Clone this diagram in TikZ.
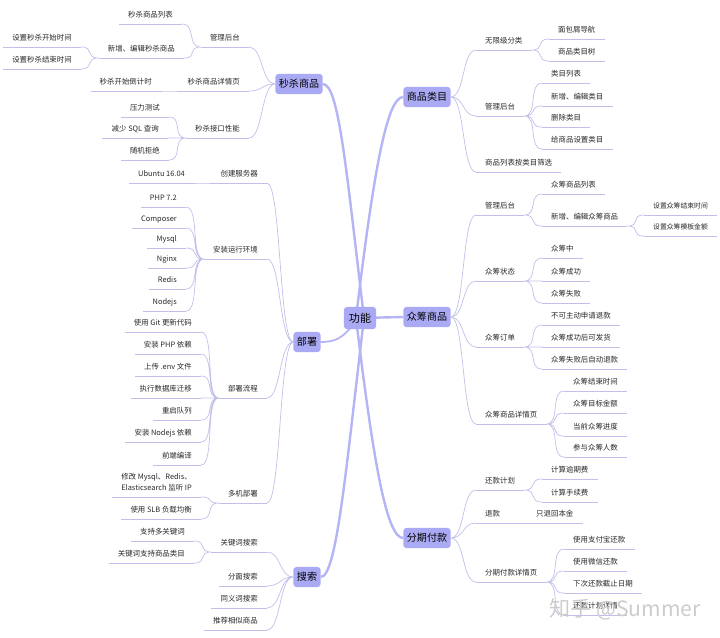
\documentclass[tikz,border=0pt]{standalone}
\usepackage{fontspec}
\setmainfont{Noto Sans CJK SC}
\usepackage{tikz}
\usetikzlibrary{backgrounds}
\definecolor{topicfill}{RGB}{170,170,244}
\definecolor{trunkline}{RGB}{180,180,246}
\definecolor{twigline}{RGB}{192,192,234}
\definecolor{labeltext}{RGB}{40,40,40}
\tikzset{
	topicbox/.style={fill=topicfill, rounded corners=3pt, inner xsep=3.5pt, inner ysep=0pt,
		minimum height=20pt, font=\fontsize{10}{12}\selectfont, text=black}
}
\tikzset{
	twig/.style={text=labeltext, font=\fontsize{7.4}{11}\selectfont, inner xsep=9pt, inner ysep=4.6pt,
		text depth=1.5pt, append after command={(\tikzlastnode.south west)
		edge[draw=twigline, line width=0.7pt] (\tikzlastnode.south east)}},
	twigL/.style={twig, anchor=south east},
	twigR/.style={twig, anchor=south west},
	smalltwig/.style={font=\fontsize{6.8}{9}\selectfont}
}
\tikzset{
	lcurve/.style={draw=twigline, line width=0.7pt, to path={.. controls +(-14,0) and +(14,0) .. (\tikztotarget)}},
	rcurve/.style={draw=twigline, line width=0.7pt, to path={.. controls +(14,0) and +(-14,0) .. (\tikztotarget)}},
	trunk/.style={draw=trunkline, line width=2.4pt}
}

\begin{document}
\begin{tikzpicture}[x=0.35mm, y=-0.35mm]
  \useasboundingbox (0,0) rectangle (720,637);
  % centre and main topics
  \node[topicbox, font=\fontsize{11}{13}\selectfont, inner xsep=5pt, minimum height=22pt] (gn) at (360,318) {功能};
  \node[topicbox] (ms) at (299,84) {秒杀商品};
  \node[topicbox] (bs) at (307,342) {部署};
  \node[topicbox] (ss) at (307,577) {搜索};
  \node[topicbox] (lm) at (427,97) {商品类目};
  \node[topicbox] (zc) at (427,317) {众筹商品};
  \node[topicbox] (fq) at (427,538) {分期付款};

  % 秒杀商品
  \node[twigL] (ms1) at (249,47) {管理后台};
  \node[twigL] (ms11) at (182,24) {秒杀商品列表};
  \node[twigL] (ms12) at (184,58) {新增、编辑秒杀商品};
  \node[twigL] (ms121) at (81,47) {设置秒杀开始时间};
  \node[twigL] (ms122) at (81,69) {设置秒杀结束时间};
  \node[twigL] (ms2) at (249,91) {秒杀商品详情页};
  \node[twigL] (ms21) at (161,91) {秒杀开始倒计时};
  \node[twigL] (ms3) at (249,138) {秒杀接口性能};
  \node[twigL] (ms31) at (169,117) {压力测试};
  \node[twigL] (ms32) at (168,138) {减少 SQL 查询};
  \node[twigL] (ms33) at (169,160) {随机拒绝};

  % 部署
  \node[twigL] (bs1) at (267,183) {创建服务器};
  \node[twigL] (bs11) at (194,183) {Ubuntu 16.04};
  \node[twigL] (bs2) at (267,259) {安装运行环境};
  \node[twigL] (bs21) at (186,207) {PHP 7.2};
  \node[twigL] (bs22) at (186,228) {Composer};
  \node[twigL] (bs23) at (186,248) {Mysql};
  \node[twigL] (bs24) at (186,268) {Nginx};
  \node[twigL] (bs25) at (186,289) {Redis};
  \node[twigL] (bs26) at (186,311) {Nodejs};
  \node[twigL] (bs3) at (267,398) {部署流程};
  \node[twigL] (bs31) at (201,332) {使用 Git 更新代码};
  \node[twigL] (bs32) at (201,354) {安装 PHP 依赖};
  \node[twigL] (bs33) at (201,376) {上传 .env 文件};
  \node[twigL] (bs34) at (201,398) {执行数据库迁移};
  \node[twigL] (bs35) at (201,420) {重启队列};
  \node[twigL] (bs36) at (201,442) {安装 Nodejs 依赖};
  \node[twigL] (bs37) at (201,465) {前端编译};
  \node[twigL] (bs4) at (267,503) {多机部署};
  \node[twigL, align=left] (bs41) at (201,497) {修改 Mysql、Redis、\\Elasticsearch 监听 IP};
  \node[twigL] (bs42) at (201,519) {使用 SLB 负载均衡};

  % 搜索
  \node[twigL] (ss1) at (267,552) {关键词搜索};
  \node[twigL] (ss11) at (194,541) {支持多关键词};
  \node[twigL] (ss12) at (194,563) {关键词支持商品类目};
  \node[twigL] (ss2) at (267,586) {分面搜索};
  \node[twigL] (ss3) at (267,608) {同义词搜索};
  \node[twigL] (ss4) at (267,630) {推荐相似商品};

  % 商品类目
  \node[twigR] (lm1) at (476,50) {无限级分类};
  \node[twigR] (lm11) at (549,39) {面包屑导航};
  \node[twigR] (lm12) at (549,61) {商品类目树};
  \node[twigR] (lm2) at (476,116) {管理后台};
  \node[twigR] (lm21) at (542,83) {类目列表};
  \node[twigR] (lm22) at (542,106) {新增、编辑类目};
  \node[twigR] (lm23) at (542,127) {删除类目};
  \node[twigR] (lm24) at (542,149) {给商品设置类目};
  \node[twigR] (lm3) at (476,172) {商品列表按类目筛选};

  % 众筹商品
  \node[twigR] (zc1) at (476,215) {管理后台};
  \node[twigR] (zc11) at (542,194) {众筹商品列表};
  \node[twigR] (zc12) at (542,226) {新增、编辑众筹商品};
  \node[twigR, smalltwig] (zc121) at (644,215) {设置众筹结束时间};
  \node[twigR, smalltwig] (zc122) at (644,236) {设置众筹模板金额};
  \node[twigR] (zc2) at (476,281) {众筹状态};
  \node[twigR] (zc21) at (542,258) {众筹中};
  \node[twigR] (zc22) at (542,281) {众筹成功};
  \node[twigR] (zc23) at (542,303) {众筹失败};
  \node[twigR] (zc3) at (476,347) {众筹订单};
  \node[twigR] (zc31) at (542,325) {不可主动申请退款};
  \node[twigR] (zc32) at (542,347) {众筹成功后可发货};
  \node[twigR] (zc33) at (542,369) {众筹失败后自动退款};
  \node[twigR] (zc4) at (476,424) {众筹商品详情页};
  \node[twigR] (zc41) at (564,391) {众筹结束时间};
  \node[twigR] (zc42) at (564,413) {众筹目标金额};
  \node[twigR] (zc43) at (564,436) {当前众筹进度};
  \node[twigR] (zc44) at (564,457) {参与众筹人数};

  % 分期付款
  \node[twigR] (fq1) at (476,490) {还款计划};
  \node[twigR] (fq11) at (542,479) {计算逾期费};
  \node[twigR] (fq12) at (542,502) {计算手续费};
  \node[twigR] (fq2) at (476,523) {退款};
  \node[twigR] (fq21) at (527,523) {只退回本金};
  \node[twigR] (fq3) at (476,582) {分期付款详情页};
  \node[twigR] (fq31) at (564,549) {使用支付宝还款};
  \node[twigR] (fq32) at (564,571) {使用微信还款};
  \node[twigR] (fq33) at (564,593) {下次还款截止日期};
  \node[twigR] (fq34) at (564,615) {还款计划详情};

  % watermark
  \node[text=black!20, font=\fontsize{21}{21}\selectfont] (wm) at (625,609) {知乎 @Summer};

  \begin{scope}[on background layer]
    % trunk lines
    \draw[trunk] (ms.east) .. controls +(16,0) and +(-18,-150) .. ([xshift=4pt]gn.center);
    \draw[trunk] (ss.east) .. controls +(16,0) and +(-18,150) .. ([xshift=4pt]gn.center);
    \draw[trunk] (lm.west) .. controls +(-16,0) and +(18,-150) .. ([xshift=-4pt]gn.center);
    \draw[trunk] (fq.west) .. controls +(-16,0) and +(18,150) .. ([xshift=-4pt]gn.center);
    \draw[trunk] (gn.center) -- (zc.west);
    \draw[trunk, line width=1.8pt] (bs.east) .. controls +(14,0) and +(-10,12) .. ([xshift=-8pt,yshift=3pt]gn.south);

    % left branches
    \draw[lcurve] (ms.west) to (ms1.south east) (ms.west) to (ms2.south east) (ms.west) to (ms3.south east);
    \draw[lcurve] (ms1.south west) to (ms11.south east) (ms1.south west) to (ms12.south east);
    \draw[lcurve] (ms12.south west) to (ms121.south east) (ms12.south west) to (ms122.south east);
    \draw[lcurve] (ms2.south west) to (ms21.south east);
    \draw[lcurve] (ms3.south west) to (ms31.south east) (ms3.south west) to (ms32.south east)
      (ms3.south west) to (ms33.south east);

    \draw[lcurve] (bs.west) to (bs1.south east) (bs.west) to (bs2.south east)
      (bs.west) to (bs3.south east) (bs.west) to (bs4.south east);
    \draw[lcurve] (bs1.south west) to (bs11.south east);
    \draw[lcurve] (bs2.south west) to (bs21.south east) (bs2.south west) to (bs22.south east)
      (bs2.south west) to (bs23.south east) (bs2.south west) to (bs24.south east)
      (bs2.south west) to (bs25.south east) (bs2.south west) to (bs26.south east);
    \draw[lcurve] (bs3.south west) to (bs31.south east) (bs3.south west) to (bs32.south east)
      (bs3.south west) to (bs33.south east) (bs3.south west) to (bs34.south east)
      (bs3.south west) to (bs35.south east) (bs3.south west) to (bs36.south east)
      (bs3.south west) to (bs37.south east);
    \draw[lcurve] (bs4.south west) to (bs41.south east) (bs4.south west) to (bs42.south east);

    \draw[lcurve] (ss.west) to (ss1.south east) (ss.west) to (ss2.south east)
      (ss.west) to (ss3.south east) (ss.west) to (ss4.south east);
    \draw[lcurve] (ss1.south west) to (ss11.south east) (ss1.south west) to (ss12.south east);

    % right branches
    \draw[rcurve] (lm.east) to (lm1.south west) (lm.east) to (lm2.south west) (lm.east) to (lm3.south west);
    \draw[rcurve] (lm1.south east) to (lm11.south west) (lm1.south east) to (lm12.south west);
    \draw[rcurve] (lm2.south east) to (lm21.south west) (lm2.south east) to (lm22.south west)
      (lm2.south east) to (lm23.south west) (lm2.south east) to (lm24.south west);

    \draw[rcurve] (zc.east) to (zc1.south west) (zc.east) to (zc2.south west)
      (zc.east) to (zc3.south west) (zc.east) to (zc4.south west);
    \draw[rcurve] (zc1.south east) to (zc11.south west) (zc1.south east) to (zc12.south west);
    \draw[rcurve] (zc12.south east) to (zc121.south west) (zc12.south east) to (zc122.south west);
    \draw[rcurve] (zc2.south east) to (zc21.south west) (zc2.south east) to (zc22.south west)
      (zc2.south east) to (zc23.south west);
    \draw[rcurve] (zc3.south east) to (zc31.south west) (zc3.south east) to (zc32.south west)
      (zc3.south east) to (zc33.south west);
    \draw[rcurve] (zc4.south east) to (zc41.south west) (zc4.south east) to (zc42.south west)
      (zc4.south east) to (zc43.south west) (zc4.south east) to (zc44.south west);

    \draw[rcurve] (fq.east) to (fq1.south west) (fq.east) to (fq2.south west) (fq.east) to (fq3.south west);
    \draw[rcurve] (fq1.south east) to (fq11.south west) (fq1.south east) to (fq12.south west);
    \draw[rcurve] (fq2.south east) to (fq21.south west);
    \draw[rcurve] (fq3.south east) to (fq31.south west) (fq3.south east) to (fq32.south west)
      (fq3.south east) to (fq33.south west) (fq3.south east) to (fq34.south west);
  \end{scope}
\end{tikzpicture}
\end{document}
